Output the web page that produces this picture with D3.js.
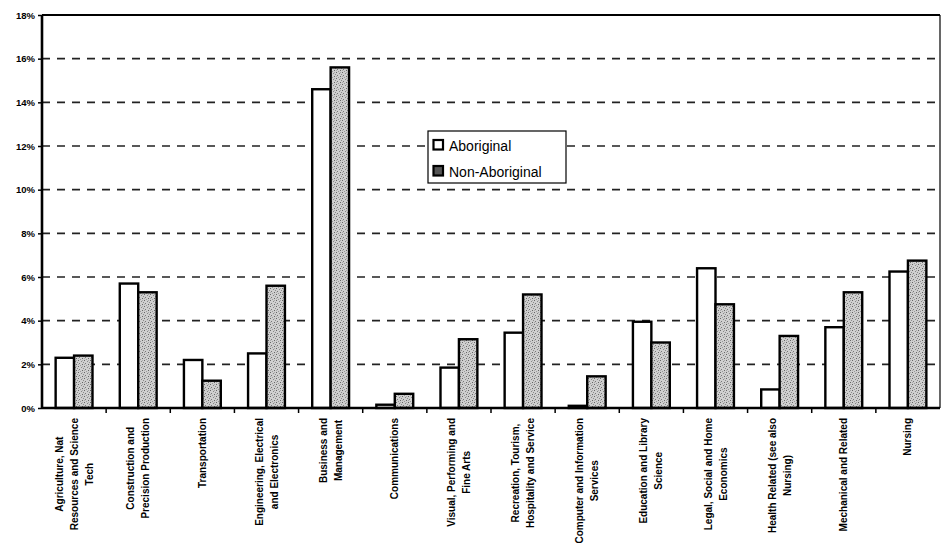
<!DOCTYPE html>
<html>
<head>
<meta charset="utf-8">
<script src="https://cdn.jsdelivr.net/npm/d3@7/dist/d3.min.js"></script>
<style>
  html, body { margin: 0; padding: 0; background: #fff; }
  svg { display: block; font-family: "Liberation Sans", Arial, sans-serif; }
</style>
</head>
<body>
<svg id="chart" width="945" height="553"></svg>
<script>
// Field of study labels (each entry is a list of label lines)
const categories = [
  ["Agriculture, Nat", "Resources and Science", "Tech"],
  ["Construction and", "Precision Production"],
  ["Transportation"],
  ["Engineering, Electrical", "and Electronics"],
  ["Business and", "Management"],
  ["Communications"],
  ["Visual,  Performing and", "Fine Arts"],
  ["Recreation, Tourism,", "Hospitality and Service"],
  ["Computer and Information", "Services"],
  ["Education and Library", "Science"],
  ["Legal, Social and Home", "Economics"],
  ["Health Related (see also", "Nursing)"],
  ["Mechanical and Related"],
  ["Nursing"]
];
const seriesNames = ["Aboriginal", "Non-Aboriginal"];
const aboriginal    = [2.3, 5.7, 2.2, 2.5, 14.6, 0.15, 1.85, 3.45, 0.1, 3.95, 6.4, 0.85, 3.7, 6.25];
const nonAboriginal = [2.4, 5.3, 1.25, 5.6, 15.6, 0.65, 3.15, 5.2, 1.45, 3.0, 4.75, 3.3, 5.3, 6.75];
const yTicks = [0, 2, 4, 6, 8, 10, 12, 14, 16, 18];

const svg = d3.select("#chart");
const margin = { left: 42, right: 5, top: 15, bottom: 145 };
const W = 945, H = 553;
const x0 = margin.left, x1 = W - margin.right;
const yTop = margin.top, yBot = H - margin.bottom;

// Speckled grey texture for the second series
const defs = svg.append("defs");
const pat = defs.append("pattern")
  .attr("id", "stipple").attr("patternUnits", "userSpaceOnUse")
  .attr("width", 6).attr("height", 6);
pat.append("rect").attr("width", 6).attr("height", 6).attr("fill", "#cfcfcf");
[[0,0,"#666"],[3,1,"#888"],[1,3,"#777"],[4,4,"#666"],[2,5,"#999"],[5,2,"#8a8a8a"],[0,4,"#aaa"],[4,0,"#aaa"]]
  .forEach(([px, py, c]) => pat.append("rect")
    .attr("x", px).attr("y", py).attr("width", 1).attr("height", 1).attr("fill", c));

const idx = categories.map((d, i) => i);
const xBand = d3.scaleBand().domain(idx).range([x0, x1]).paddingInner(0).paddingOuter(0);
const xInner = d3.scaleBand().domain(seriesNames)
  .range([0, xBand.bandwidth()]).paddingInner(0).paddingOuter(0.74);
const y = d3.scaleLinear().domain([0, 18]).range([yBot, yTop]);

// Dashed horizontal gridlines
svg.append("g").selectAll("line")
  .data(yTicks.filter(t => t > 0 && t < 18))
  .join("line")
  .attr("x1", x0).attr("x2", x1)
  .attr("y1", d => y(d)).attr("y2", d => y(d))
  .attr("stroke", "#222").attr("stroke-width", 1.6)
  .attr("stroke-dasharray", "8,7");

// Bars
const series = [
  { name: "Aboriginal", values: aboriginal, fill: "#fff" },
  { name: "Non-Aboriginal", values: nonAboriginal, fill: "url(#stipple)" }
];
series.forEach(s => {
  svg.append("g").selectAll("rect")
    .data(s.values)
    .join("rect")
    .attr("x", (d, i) => xBand(i) + xInner(s.name))
    .attr("width", xInner.bandwidth())
    .attr("y", d => y(d))
    .attr("height", d => yBot - y(d))
    .attr("fill", s.fill)
    .attr("stroke", "#000").attr("stroke-width", 2.4);
});

// Plot frame
svg.append("line").attr("x1", x0).attr("x2", x1).attr("y1", yTop).attr("y2", yTop)
  .attr("stroke", "#000").attr("stroke-width", 2.2);
svg.append("line").attr("x1", x1).attr("x2", x1).attr("y1", yTop).attr("y2", yBot)
  .attr("stroke", "#000").attr("stroke-width", 1.2);
svg.append("line").attr("x1", x0).attr("x2", x0).attr("y1", yTop).attr("y2", yBot)
  .attr("stroke", "#000").attr("stroke-width", 2.6);
svg.append("line").attr("x1", x0).attr("x2", x1).attr("y1", yBot).attr("y2", yBot)
  .attr("stroke", "#000").attr("stroke-width", 2.6);

// Y axis
const yAxis = d3.axisLeft(y).tickValues(yTicks).tickSize(4)
  .tickFormat(d => d + "%");
const gy = svg.append("g").attr("transform", `translate(${x0},0)`).call(yAxis);
gy.select(".domain").remove();
gy.selectAll(".tick line").attr("stroke", "#000").attr("stroke-width", 1.5);
gy.selectAll(".tick text")
  .attr("font-size", 9.5).attr("font-weight", "bold").attr("fill", "#000")
  .attr("x", -7);

// X axis: ticks at category boundaries
const bounds = idx.map(i => xBand(i)).concat([x1]);
svg.append("g").selectAll("line")
  .data(bounds.slice(1, -1))
  .join("line")
  .attr("x1", d => d).attr("x2", d => d)
  .attr("y1", yBot).attr("y2", yBot + 5)
  .attr("stroke", "#000").attr("stroke-width", 1.5);

// Rotated category labels: lines centred on each other, block hung from the axis
const lineGap = 15;
const labelSize = 10;
const labels = svg.append("g");
categories.forEach((lines, i) => {
  const cx = xBand(i) + xBand.bandwidth() / 2;
  const n = lines.length;
  const g = labels.append("g");
  const texts = lines.map((ln, j) => g.append("text")
    .attr("font-size", labelSize).attr("font-weight", "bold").attr("fill", "#000")
    .attr("text-anchor", "middle")
    .text(ln));
  const maxW = d3.max(texts, t => t.node().getComputedTextLength());
  texts.forEach((t, j) => {
    const off = (j - (n - 1) / 2) * lineGap;
    t.attr("transform", `translate(${cx + off + 3.5},${yBot + 10}) rotate(-90)`)
      .attr("x", -maxW / 2);
  });
});

// Legend
const lg = svg.append("g").attr("transform", "translate(428,131)");
lg.append("rect").attr("width", 138).attr("height", 52)
  .attr("fill", "#fff").attr("stroke", "#000").attr("stroke-width", 1.2);
series.forEach((s, i) => {
  const yy = 9 + i * 26;
  lg.append("rect").attr("x", 5.5).attr("y", yy).attr("width", 9.5).attr("height", 9.5)
    .attr("fill", i === 0 ? "#fff" : "#555")
    .attr("stroke", "#000").attr("stroke-width", 2.2);
  lg.append("text").attr("x", 21).attr("y", yy + 10.5)
    .attr("font-size", 14).attr("fill", "#000")
    .attr("font-family", "Liberation Sans, Arial, sans-serif")
    .text(s.name);
});
</script>
</body>
</html>
